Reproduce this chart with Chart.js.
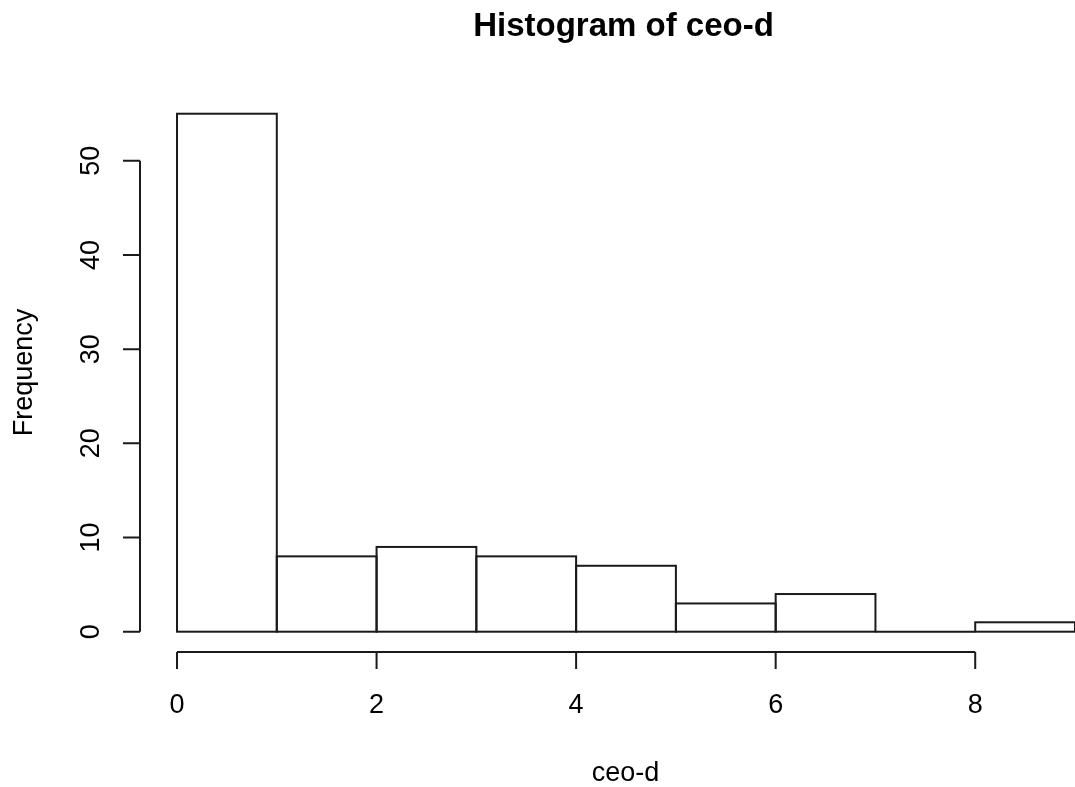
<!DOCTYPE html>
<html>
<head>
<meta charset="utf-8">
<title>Histogram of ceo-d</title>
<script src="https://cdn.jsdelivr.net/npm/chart.js@4/dist/chart.umd.min.js"></script>
<style>
    html, body { margin: 0; padding: 0; background: #ffffff; }
    #wrap { width: 1075px; height: 787px; }
</style>
</head>
<body>
<div id="wrap"><canvas id="histChart" width="1075" height="787"></canvas></div>
<script>
// ============================================
// Data
// ============================================
var binEdges = [0, 1, 2, 3, 4, 5, 6, 7, 8, 9];
var counts = [55, 8, 9, 8, 7, 3, 4, 0, 1];
var xTicks = [0, 2, 4, 6, 8];
var yTicks = [0, 10, 20, 30, 40, 50];

var titleText = 'Histogram of ceo-d';
var xLabel = 'ceo-d';
var yLabel = 'Frequency';

var FONT = '"Liberation Sans", Arial, sans-serif';
var INK = '#1a1a1a';

// ============================================
// R-style axes, outlines and titles
// ============================================
var rStylePlugin = {
    id: 'rStyle',
    afterDatasetsDraw: function(chart) {
        var ctx = chart.ctx;
        var meta = chart.getDatasetMeta(0);
        ctx.save();
        ctx.strokeStyle = INK;
        ctx.lineWidth = 2;
        meta.data.forEach(function(bar) {
            var half = bar.width / 2;
            var top = Math.min(bar.y, bar.base);
            var h = Math.abs(bar.base - bar.y);
            ctx.strokeRect(bar.x - half, top, bar.width, h);
        });
        ctx.restore();
    },
    afterDraw: function(chart) {
        var ctx = chart.ctx;
        var xs = chart.scales.x;
        var ys = chart.scales.y;
        var area = chart.chartArea;
        var tickLen = 17;

        ctx.save();
        ctx.strokeStyle = INK;
        ctx.lineWidth = 2;

        // y axis
        var axX = area.left;
        ctx.beginPath();
        ctx.moveTo(axX, ys.getPixelForValue(yTicks[0]));
        ctx.lineTo(axX, ys.getPixelForValue(yTicks[yTicks.length - 1]));
        yTicks.forEach(function(t) {
            var py = ys.getPixelForValue(t);
            ctx.moveTo(axX - tickLen, py);
            ctx.lineTo(axX, py);
        });
        ctx.stroke();

        // x axis
        var axY = area.bottom;
        ctx.beginPath();
        ctx.moveTo(xs.getPixelForValue(xTicks[0]), axY);
        ctx.lineTo(xs.getPixelForValue(xTicks[xTicks.length - 1]), axY);
        xTicks.forEach(function(t) {
            var px = xs.getPixelForValue(t);
            ctx.moveTo(px, axY);
            ctx.lineTo(px, axY + tickLen);
        });
        ctx.stroke();

        // tick labels
        ctx.fillStyle = '#000';
        ctx.font = '27px ' + FONT;
        ctx.textAlign = 'center';
        ctx.textBaseline = 'alphabetic';
        xTicks.forEach(function(t) {
            ctx.fillText(String(t), xs.getPixelForValue(t), axY + 61);
        });
        yTicks.forEach(function(t) {
            ctx.save();
            ctx.translate(axX - 41, ys.getPixelForValue(t));
            ctx.rotate(-Math.PI / 2);
            ctx.fillText(String(t), 0, 0);
            ctx.restore();
        });

        // axis titles
        var midX = (area.left + xs.getPixelForValue(binEdges[binEdges.length - 1]) + 36) / 2;
        ctx.font = '27px ' + FONT;
        ctx.fillText(xLabel, midX, 781);
        ctx.save();
        ctx.translate(32, (area.top + area.bottom) / 2);
        ctx.rotate(-Math.PI / 2);
        ctx.fillText(yLabel, 0, 0);
        ctx.restore();

        // main title
        ctx.font = 'bold 33px ' + FONT;
        ctx.fillText(titleText, midX - 2, 36);
        ctx.restore();
    }
};

// ============================================
// Chart
// ============================================
function initHistogram() {
    var canvas = document.getElementById('histChart');
    var points = counts.map(function(c, i) {
        return { x: (binEdges[i] + binEdges[i + 1]) / 2, y: c };
    });

    new Chart(canvas, {
        type: 'bar',
        data: {
            datasets: [{
                label: yLabel,
                data: points,
                backgroundColor: '#ffffff',
                borderWidth: 0,
                barPercentage: 1,
                categoryPercentage: 1
            }]
        },
        options: {
            responsive: false,
            animation: false,
            devicePixelRatio: 1,
            layout: {
                padding: { left: 140, right: 0, top: 93, bottom: 135 }
            },
            plugins: {
                legend: { display: false },
                tooltip: { enabled: false },
                title: { display: false }
            },
            scales: {
                x: {
                    type: 'linear',
                    display: false,
                    offset: false,
                    min: -0.371,
                    max: 9
                },
                y: {
                    type: 'linear',
                    display: false,
                    min: -2.155,
                    max: 57.2
                }
            }
        },
        plugins: [rStylePlugin]
    });
}

document.addEventListener('DOMContentLoaded', initHistogram);
</script>
</body>
</html>
